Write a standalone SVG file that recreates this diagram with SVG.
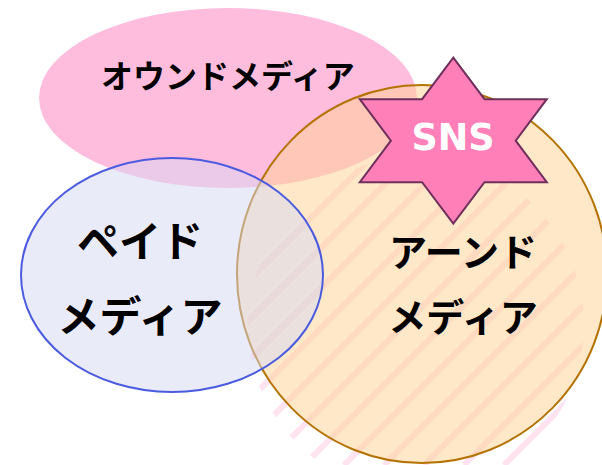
<svg xmlns="http://www.w3.org/2000/svg" width="602" height="465" viewBox="0 0 602 465">
  <defs>
    <style>
      .jp { font-family: "Noto Sans CJK JP", "Noto Sans", sans-serif; font-weight: bold; fill: #000; text-anchor: middle; }
      .sns { font-family: "DejaVu Sans", "Liberation Sans", sans-serif; font-weight: bold; fill: #fff; text-anchor: middle; font-size: 36.5px; }
      .hatch line { stroke: #ffe3f0; stroke-width: 6; }
    </style>
    <clipPath id="hatchClip">
      <circle cx="416" cy="325" r="168"/>
    </clipPath>
  </defs>
  <rect width="602" height="465" fill="#ffffff"/>

  <g id="node-owned">
    <ellipse cx="228" cy="98" rx="189" ry="90" fill="#ffbddd"/>
    <text class="jp" x="228" y="88" font-size="32">オウンドメディア</text>
  </g>

  <g id="node-earned">
    <g class="hatch" clip-path="url(#hatchClip)">
      <line x1="489" y1="0" x2="24" y2="465"/>
      <line x1="529" y1="0" x2="64" y2="465"/>
      <line x1="569" y1="0" x2="104" y2="465"/>
      <line x1="609" y1="0" x2="144" y2="465"/>
      <line x1="649" y1="0" x2="184" y2="465"/>
      <line x1="689" y1="0" x2="224" y2="465"/>
      <line x1="729" y1="0" x2="264" y2="465"/>
      <line x1="769" y1="0" x2="304" y2="465"/>
      <line x1="809" y1="0" x2="344" y2="465"/>
      <line x1="849" y1="0" x2="384" y2="465"/>
      <line x1="889" y1="0" x2="424" y2="465"/>
      <line x1="929" y1="0" x2="464" y2="465"/>
      <line x1="969" y1="0" x2="504" y2="465"/>
    </g>
    <ellipse cx="422" cy="274" rx="185" ry="189" fill="#ffd191" fill-opacity="0.5" stroke="#b47200" stroke-width="2"/>
    <text class="jp" x="463" y="265.5" font-size="38">アーンド</text>
    <text class="jp" x="463" y="330.5" font-size="38">メディア</text>
  </g>

  <g id="node-paid">
    <ellipse cx="172" cy="275" rx="151" ry="117" fill="#d5d8f4" fill-opacity="0.5" stroke="#4b5be0" stroke-width="2"/>
    <text class="jp" x="140" y="257" font-size="42">ペイド</text>
    <text class="jp" x="140" y="332" font-size="42">メディア</text>
  </g>

  <g id="node-sns">
    <polygon points="453.3,57.7 484.5,99.2 546.8,99.2 515.7,140.7 546.8,182.2 484.5,182.2 453.3,223.7 422.1,182.2 359.8,182.2 390.9,140.7 359.8,99.2 422.1,99.2" fill="#ff80b9" stroke="#6e2f5c" stroke-width="2" stroke-linejoin="miter"/>
    <text class="sns" x="453" y="149.5">SNS</text>
  </g>

  <g id="connectors"/>
</svg>
